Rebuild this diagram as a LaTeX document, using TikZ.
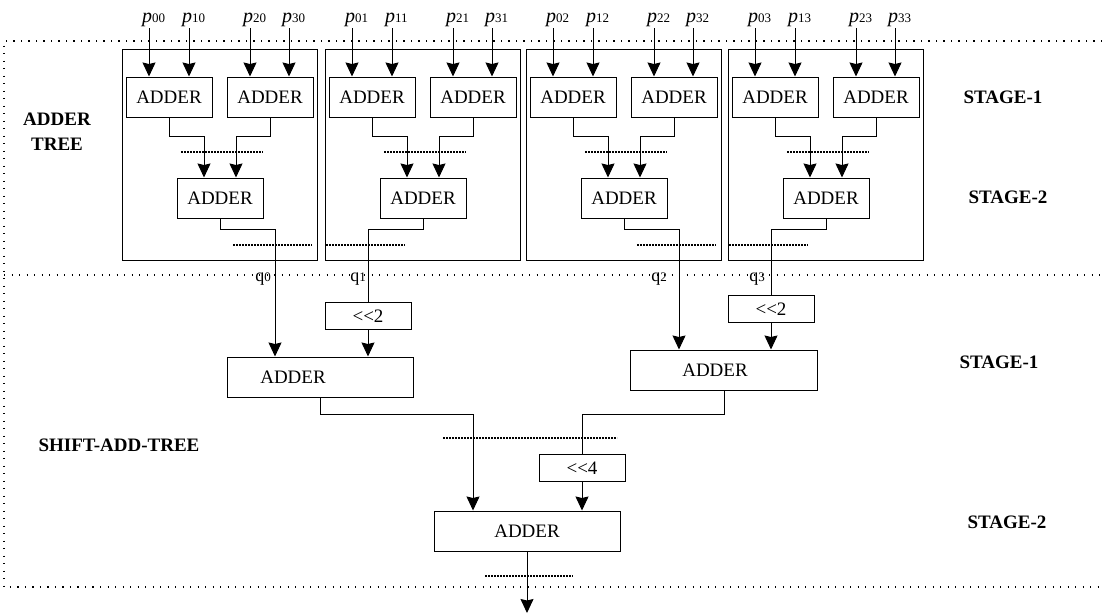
\documentclass[tikz,border=0pt]{standalone}
\usepackage{fontspec}
\setmainfont{Liberation Serif}
\usetikzlibrary{arrows.meta,calc}

\tikzset{
  adder/.style={draw,line width=1pt,minimum width=86pt,minimum height=40pt,inner sep=0pt,font=\fontsize{19}{19}\selectfont},
  shifter/.style={draw,line width=1pt,minimum width=86pt,minimum height=27pt,inner sep=0pt,font=\fontsize{19}{19}\selectfont},
  wire/.style={line width=1pt},
  arr/.style={line width=1pt,-{Stealth[length=14pt,width=13pt,inset=1.5pt]}},
  frame/.style={line width=1.4pt,dash pattern=on 1.4pt off 6.1pt},
  reg/.style={line width=2.6pt,dash pattern=on 1.8pt off 1.2pt},
  stagelbl/.style={font=\fontsize{19}{25}\selectfont\bfseries},
}
\newcommand{\pin}[1]{\textit{\fontsize{20}{20}\selectfont p}{\fontsize{13}{13}\selectfont #1}}
\newcommand{\qout}[1]{{\fontsize{18}{18}\selectfont q}{\fontsize{13}{13}\selectfont #1}}
\newcommand{\shl}[1]{\textless\kern0pt\textless\kern0pt #1}

\begin{document}
\begin{tikzpicture}[x=1pt,y=-1pt]
    \useasboundingbox (0,0) rectangle (1102,614);
    %% dotted frames
    \draw[frame] (1102,41) -- (4,41) -- (4,587) -- (1102,587);
    \draw[frame] (4,275) -- (1102,275);
    %% four adder trees
    \foreach \j/\dx/\dir in {0/122/1,1/325/-1,2/526/1,3/728/-1}{
        \begin{scope}[shift={(\dx,0)}]
            \draw[wire] (0,49) rectangle (195,260);
            \node[adder] (a\j) at (47,97) {ADDER};
            \node[adder] (b\j) at (148,97) {ADDER};
            \node[adder] (c\j) at (98,198) {ADDER};
            \foreach \i/\x in {0/27,1/67}{
                \node[anchor=base west,inner sep=0pt] (p\i\j) at (\x-7,22) {\pin{\i\j}};
                \coordinate (i\i\j) at (\x,28);
                \draw[arr] (i\i\j) -- (a\j.north -| i\i\j);
            }
            \foreach \i/\x in {2/128,3/167}{
                \node[anchor=base west,inner sep=0pt] (p\i\j) at (\x-7,22) {\pin{\i\j}};
                \coordinate (i\i\j) at (\x,28);
                \draw[arr] (i\i\j) -- (b\j.north -| i\i\j);
            }
            \draw[arr] (a\j.south) -- ++(0,19) -| ([xshift=-16pt]c\j.north);
            \draw[arr] (b\j.south) -- ++(0,19) -| ([xshift=16pt]c\j.north);
            \draw[reg] (59,152) -- (141,152);
            %% output towards the shift-add tree
            \coordinate (q\j) at (98+55*\dir,229);
            \draw[reg] (98+55*\dir-42,245) -- (98+55*\dir+37,245);
        \end{scope}
    }
    \node[anchor=base east,inner sep=0pt] (lq0) at (271,281) {\qout{0}};
    \node[anchor=base east,inner sep=0pt] (lq1) at (366,281) {\qout{1}};
    \node[anchor=base east,inner sep=0pt] (lq2) at (667,281) {\qout{2}};
    \node[anchor=base east,inner sep=0pt] (lq3) at (765,281) {\qout{3}};
    %% shift-add tree
    \node[shifter] (sh1) at (368,316) {\shl{2}};
    \node[shifter] (sh2) at (771,309) {\shl{2}};
    \node[adder,minimum width=186pt] (sa1) at (320,377) {ADDER\hspace*{54pt}};
    \node[adder,minimum width=187pt] (sa2) at (724,370) {ADDER\hspace*{18pt}};
    \node[shifter] (sh3) at (582,468) {\shl{4}};
    \node[adder,minimum width=186pt] (sa3) at (527,531) {ADDER};
    \coordinate (res) at (527,613);
    \draw[arr] (c0.south) |- (q0) -- (sa1.north -| q0);
    \draw[wire] (c1.south) |- (q1) -- (sh1.north);
    \draw[arr] (sh1.south) -- (sa1.north -| sh1.south);
    \draw[arr] (c2.south) |- (q2) -- (sa2.north -| q2);
    \draw[wire] (c3.south) |- (q3) -- (sh2.north);
    \draw[arr] (sh2.south) -- (sa2.north -| sh2.south);
    \draw[arr] (sa1.south) -- ++(0,17) -| ([xshift=-54pt]sa3.north);
    \draw[wire] (sa2.south) -- ++(0,24) -| (sh3.north);
    \draw[arr] (sh3.south) -- ([xshift=55pt]sa3.north);
    \draw[arr] (sa3.south) -- (res);
    \draw[reg] (443,438) -- (617,438);
    \draw[reg] (485,576) -- (573,576);
    %% stage labels
    \node[stagelbl,align=center] (tree) at (57,132) {ADDER\\TREE};
    \node[stagelbl] (sat) at (119,445) {SHIFT-ADD-TREE};
    \node[stagelbl] (st1) at (1003,97) {STAGE-1};
    \node[stagelbl] (st2) at (1008,197) {STAGE-2};
    \node[stagelbl] (st3) at (999,362) {STAGE-1};
    \node[stagelbl] (st4) at (1007,522) {STAGE-2};
\end{tikzpicture}
\end{document}
